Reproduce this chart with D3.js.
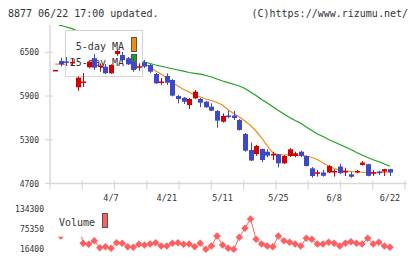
<!DOCTYPE html>
<html>
<head>
<meta charset="utf-8">
<title>8877</title>
<style>
body { margin: 0; background: #fff; }
text { font-family: "DejaVu Sans Mono", monospace; fill: #333; }
.axis line, .axis path { stroke: #d8d8d8; }
</style>
</head>
<body>
<script src="https://cdn.jsdelivr.net/npm/d3@7"></script>
<script>

// daily prices, 3/24 .. 6/22
var open = [6250,6381,6375,6350,6020,6080,6294,6418,6298,6303,
            6212,6477,6463,6418,6371,6298,6363,6326,6202,6080,
            6175,6120,5900,5877,5777,5869,5859,5822,5754,5695,
            5548,5633,5633,5571,5379,5160,5105,5173,5136,5085,
            5101,4977,5077,5077,5136,5077,4908,4833,4851,4851,
            4851,4933,4851,4826,4858,4955,4966,4833,4864,4864,
            4897];
var close = [6258,6335,6355,6367,6152,6100,6371,6289,6319,6212,
             6326,6518,6394,6335,6257,6308,6303,6234,6075,6100,
             6083,5905,5859,5822,5859,5960,5809,5746,5699,5562,
             5626,5612,5599,5434,5150,5015,5215,5022,5082,5105,
             4977,5077,5169,5114,5077,4940,4803,4854,4806,4940,
             4872,4842,4872,4793,4872,4987,4805,4854,4842,4897,
             4850];
var high = [6258,6426,6436,6422,6166,6216,6380,6477,6349,6340,
            6335,6532,6504,6436,6436,6349,6394,6340,6216,6147,
            6212,6134,5914,5887,5873,5983,5873,5832,5800,5709,
            5663,5695,5695,5585,5393,5262,5230,5180,5169,5136,
            5105,5091,5187,5136,5150,5084,4926,4885,4885,4954,
            4895,4967,4917,4858,4885,5009,4970,4885,4874,4901,
            4901];
var low = [6250,6303,6312,6326,5970,6024,6281,6257,6234,6202,
           6205,6453,6367,6326,6230,6248,6285,6216,6065,6052,
           6052,5894,5800,5791,5722,5859,5746,5736,5695,5466,
           5535,5594,5571,5427,5136,5010,5080,4995,5060,5022,
           4922,4968,5063,5060,5063,4933,4780,4794,4794,4845,
           4794,4828,4803,4779,4840,4946,4798,4803,4817,4803,
           4803];
var ma5 = [6339,6339,6330,6320,6280,6230,6240,6230,6260,6250,
           6300,6340,6350,6380,6360,6340,6346,6298,6243,6202,
           6147,6079,6038,5990,5955,5914,5887,5859,5839,5811,
           5777,5709,5661,5612,5557,5496,5420,5324,5215,5118,
           5098,5091,5098,5091,5084,5077,5057,5029,4981,4940,
           4906,4885,4872,4865,4858,4854,4848,4848,4848,4854,
           4861];
var ma25 = [6895,6868,6847,6824,6792,6758,6723,6689,6655,6621,
            6586,6552,6518,6477,6442,6408,6367,6346,6326,6309,
            6292,6274,6257,6241,6223,6212,6200,6182,6161,6134,
            6106,6083,6062,6038,6003,5955,5907,5852,5804,5752,
            5701,5654,5606,5564,5526,5475,5427,5379,5345,5304,
            5270,5235,5201,5166,5125,5091,5057,5025,4998,4968,
            4936];
var volume = [78300,54700,72400,63600,110700,33200,30250,40860,20230,23180,
              18460,34970,33200,23180,21410,30250,28190,31140,34970,25240,
              25240,33200,34970,30250,31140,23180,33200,15520,25240,54720,
              28190,18460,15520,50890,77410,104830,45000,31140,25240,23180,
              54720,40860,36150,31140,25240,47940,45000,31140,31140,36150,
              33200,25240,33200,37920,33200,31140,47940,31140,36150,25240,
              21410];

var tickIdx = [10, 20, 30, 40, 50, 60];
var tickLabels = ["4/7", "4/21", "5/11", "5/25", "6/8", "6/22"];
var priceTicks = [4700, 5300, 5900, 6500];
var volTicks = [16400, 75350, 134300];

var width = 420, height = 259;
var plotL = 50, plotR = 407, plotT = 25, plotB = 183.5;

var svg = d3.select("body").append("svg")
    .attr("width", width)
    .attr("height", height);

var x = d3.scaleLinear().domain([0, 60]).range([55.2, 390]);
var y = d3.scaleLinear().domain([4700, 6500]).range([plotB, 52.3]);
var yv = d3.scaleLinear().domain([16400, 134300]).range([249, 209]);

var n = close.length;
var idx = d3.range(n);

// header
svg.append("text").attr("x", 8).attr("y", 17).style("font-size", "10px")
    .text("8877 06/22 17:00 updated.");
svg.append("text").attr("x", 408).attr("y", 17).attr("text-anchor", "end")
    .style("font-size", "10px").text("(C)https://www.rizumu.net/");

svg.append("clipPath").attr("id", "plot")
  .append("rect").attr("x", plotL).attr("y", plotT)
    .attr("width", plotR - plotL).attr("height", plotB - plotT);

// axes
var grid = svg.append("g").attr("class", "axis");
grid.append("line").attr("x1", plotL).attr("x2", plotL).attr("y1", plotT).attr("y2", plotB + 1)
    .attr("stroke-width", 1.5);
grid.append("line").attr("x1", plotL).attr("x2", plotR).attr("y1", plotB).attr("y2", plotB)
    .attr("stroke-width", 1.5);
grid.selectAll(".xt").data(d3.range(12)).enter().append("line")
    .attr("x1", function(k) { return plotL + k * (355 / 11); })
    .attr("x2", function(k) { return plotL + k * (355 / 11); })
    .attr("y1", plotB - 3).attr("y2", plotB + 6)
    .attr("stroke-width", 1.2);
grid.selectAll(".yt").data(priceTicks).enter().append("line")
    .attr("x1", 45).attr("x2", 53)
    .attr("y1", function(d) { return y(d); }).attr("y2", function(d) { return y(d); })
    .attr("stroke-width", 1.2);

svg.selectAll(".ylab").data(priceTicks).enter().append("text")
    .attr("x", 39).attr("y", function(d) { return y(d) + 3; })
    .attr("text-anchor", "end").style("font-size", "8px")
    .text(function(d) { return d; });

svg.selectAll(".xlab").data(tickIdx).enter().append("text")
    .attr("x", function(d) { return x(d); }).attr("y", 201)
    .attr("text-anchor", "middle").style("font-size", "8.5px")
    .text(function(d, i) { return tickLabels[i]; });

svg.selectAll(".vlab").data(volTicks).enter().append("text")
    .attr("x", 44).attr("y", function(d) { return yv(d) + 3; })
    .attr("text-anchor", "end").style("font-size", "8px")
    .text(function(d) { return d; });

// moving averages
var plot = svg.append("g").attr("clip-path", "url(#plot)");
function maLine(arr) {
  return d3.line().x(function(i) { return x(i); }).y(function(i) { return y(arr[i]); })(idx);
}
plot.append("path").attr("d", maLine(ma25)).attr("fill", "none")
    .attr("stroke", "#1aa31a").attr("stroke-width", 1.2);
plot.append("path").attr("d", maLine(ma5)).attr("fill", "none")
    .attr("stroke", "#f08c10").attr("stroke-width", 1.2);

// legend
var lg = svg.append("g");
lg.append("rect").attr("x", 65.5).attr("y", 30.5).attr("width", 77).attr("height", 46)
    .attr("fill", "#fff").attr("stroke", "#d4d4d4").attr("stroke-width", 1);
lg.append("text").attr("x", 124).attr("y", 49.5).attr("text-anchor", "end")
    .style("font-size", "10px").text("5-day MA");
lg.append("text").attr("x", 124).attr("y", 66).attr("text-anchor", "end")
    .style("font-size", "10px").text("25-day MA");
lg.append("rect").attr("x", 131.5).attr("y", 37.5).attr("width", 5).attr("height", 14)
    .attr("fill", "#f08c10").attr("stroke", "#555");
lg.append("rect").attr("x", 131.5).attr("y", 54.5).attr("width", 5).attr("height", 14)
    .attr("fill", "#1aa31a").attr("stroke", "#555");

// candles
var cw = 5;
var candle = svg.append("g").selectAll("g").data(idx).enter().append("g");
candle.append("line")
    .attr("x1", function(i) { return Math.round(x(i)) + 0.5; })
    .attr("x2", function(i) { return Math.round(x(i)) + 0.5; })
    .attr("y1", function(i) { return y(high[i]); })
    .attr("y2", function(i) { return y(low[i]); })
    .attr("stroke", function(i) { return close[i] >= open[i] ? "#d20000" : "#3f48c8"; })
    .attr("stroke-width", 1);
candle.append("rect")
    .attr("x", function(i) { return Math.round(x(i)) + 0.5 - cw / 2; })
    .attr("width", cw)
    .attr("y", function(i) { return y(Math.max(open[i], close[i])); })
    .attr("height", function(i) { return Math.max(1.5, Math.abs(y(open[i]) - y(close[i]))); })
    .attr("fill", function(i) { return close[i] >= open[i] ? "#d20000" : "#3f48c8"; });

// volume
var vcol = "#ff5f5f";
svg.append("path")
    .attr("d", d3.line().x(function(i) { return x(i); }).y(function(i) { return yv(volume[i]); })(idx))
    .attr("fill", "none").attr("stroke", vcol).attr("stroke-width", 1);
svg.selectAll(".vdot").data(idx).enter().append("path")
    .attr("d", d3.symbol().type(d3.symbolSquare).size(28))
    .attr("transform", function(i) { return "translate(" + x(i) + "," + yv(volume[i]) + ") rotate(45)"; })
    .attr("fill", vcol);

var vl = svg.append("g");
vl.append("rect").attr("x", 52).attr("y", 206).attr("width", 62).attr("height", 30.7)
    .attr("fill", "#fff");
vl.append("text").attr("x", 59).attr("y", 226).style("font-size", "10px").text("Volume");
vl.append("rect").attr("x", 102.5).attr("y", 213.5).attr("width", 5).attr("height", 14)
    .attr("fill", vcol).attr("stroke", "#555");

</script>
</body>
</html>
